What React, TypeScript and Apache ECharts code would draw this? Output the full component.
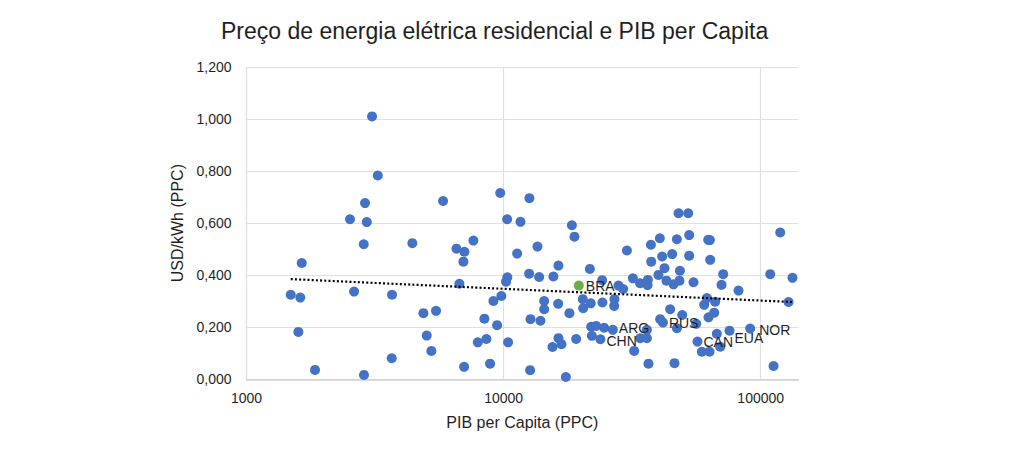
import React, { useEffect, useRef } from "react";
import * as echarts from "echarts";

// PIB per capita (PPC) and price USD/kWh (PPC) for unlabeled countries
const gdpPerCapita = [
  1486, 1619, 1640, 1591, 1847, 2527, 2891, 2936, 2858, 3078, 3240, 2620, 2864, 3681, 3672,
  4416, 4875, 5460, 5023, 5236, 5815, 6556, 7040, 6976, 7630, 6730, 7020, 7934, 8420, 8570,
  8860, 9129, 9434, 9700, 9800, 10340, 10220, 10320, 10410, 11630, 11290, 12600, 12570, 12720,
  12680, 13540, 13750, 13910, 14380, 14380, 15620, 15490, 16340, 16300, 16340, 16790, 17460,
  18030, 18430, 18860, 19150, 20330, 20390, 21650, 21830, 21900, 22040, 22910, 24170, 24230,
  24600, 26990, 26920, 27970, 29170, 30170, 31820, 32200, 33960, 34000, 36070, 36070, 36390,
  36300, 36590, 37400, 37500, 40020, 40520, 40640, 41370, 42240, 42990, 44450, 45240, 45790,
  46200, 47200, 47200, 47900, 48310, 48490, 49500, 52230, 52700, 52700, 54780, 56100, 59040,
  60290, 61750, 66500, 62480, 63440, 63600, 62660, 63210, 65920, 67520, 69560, 70390, 71460,
  81950, 108900, 112200, 119100, 132900, 128300,
];
const pricePerKWh = [
  0.325, 0.314, 0.447, 0.182, 0.036, 0.615, 0.677, 0.604, 0.519, 1.01, 0.783, 0.337, 0.017, 0.325, 0.081,
  0.523, 0.254, 0.263, 0.168, 0.109, 0.685, 0.502, 0.49, 0.452, 0.533, 0.367, 0.048, 0.142, 0.233, 0.155,
  0.06, 0.301, 0.208, 0.716, 0.32, 0.392, 0.375, 0.615, 0.142, 0.605, 0.483, 0.696, 0.406, 0.231,
  0.035, 0.51, 0.393, 0.225, 0.301, 0.269, 0.395, 0.124, 0.437, 0.29, 0.158, 0.135, 0.009,
  0.254, 0.592, 0.548, 0.155, 0.308, 0.273, 0.424, 0.292, 0.202, 0.167, 0.205, 0.381, 0.295,
  0.198, 0.308, 0.282, 0.36, 0.347, 0.495, 0.388, 0.109, 0.369, 0.158, 0.158, 0.19, 0.382,
  0.362, 0.06, 0.517, 0.452, 0.401, 0.542, 0.231, 0.472, 0.427, 0.379, 0.269, 0.481, 0.365,
  0.062, 0.538, 0.196, 0.638, 0.379, 0.417, 0.247, 0.638, 0.554, 0.475, 0.373, 0.213, 0.106,
  0.286, 0.312, 0.298, 0.536, 0.535, 0.459, 0.238, 0.106, 0.256, 0.175, 0.125, 0.363, 0.404,
  0.341, 0.404, 0.051, 0.564, 0.39, 0.297,
];

// Labeled countries
const labeledCountries = ["CHN", "ARG", "RUS", "CAN", "EUA", "NOR"];
const labeledGdp = [23800, 26600, 41640, 56760, 75600, 91000];
const labeledPrice = [0.154, 0.19, 0.218, 0.145, 0.187, 0.195];

// Brazil (highlighted)
const brazilLabel = ["BRA"];
const brazilGdp = [19610];
const brazilPrice = [0.36];

// Trend line end points
const trendGdp = [1486, 132900];
const trendPrice = [0.385, 0.297];

// Axis ranges
const xMin = 1000;
const xMax = 140000;
const yMin = 0;
const yMax = 1.2;
const yStep = 0.2;

const FONT = "'Liberation Sans', Arial, sans-serif";
const BLUE = "#4472C4";
const GREEN = "#70AD47";
const TEXT = "#1f1f1f";

// label placement tweaks (style only)
const labelOffsets: Record<string, [number, number]> = {
  CHN: [0, 2],
  ARG: [0, -2],
  EUA: [-1, 7],
  NOR: [3, 1],
};

export default function App() {
  const ref = useRef<HTMLDivElement>(null);

  useEffect(() => {
    if (!ref.current) return;
    const chart = echarts.init(ref.current, null, { renderer: "svg" });

    const mainData = gdpPerCapita.map((g, i) => [g, pricePerKWh[i]]);
    const labeledData = labeledGdp.map((g, i) => {
      const code = labeledCountries[i];
      const off = labelOffsets[code];
      return off
        ? { value: [g, labeledPrice[i]], label: { offset: off } }
        : { value: [g, labeledPrice[i]] };
    });
    const brazilData = brazilGdp.map((g, i) => [g, brazilPrice[i]]);
    const trendData = trendGdp.map((g, i) => [g, trendPrice[i]]);

    const isPow10 = (v: number) => Math.abs(Math.log10(v) - Math.round(Math.log10(v))) < 1e-6;

    chart.setOption({
      animation: false,
      backgroundColor: "#ffffff",
      textStyle: { fontFamily: FONT },
      title: {
        text: "Preço de energia elétrica residencial e PIB per Capita",
        left: 221,
        top: 19,
        padding: 0,
        textStyle: { fontFamily: FONT, fontSize: 23, fontWeight: "normal", color: TEXT },
      },
      grid: {
        left: 246.5,
        right: 225.7,
        top: 67,
        bottom: 78.7,
        outerBoundsMode: "none",
      },
      xAxis: {
        type: "log",
        logBase: 10,
        min: xMin,
        max: xMax,
        name: "PIB per Capita (PPC)",
        nameLocation: "middle",
        nameGap: 35,
        nameTextStyle: { fontFamily: FONT, fontSize: 16, color: TEXT },
        axisLine: { show: true, lineStyle: { color: "#d0d0d0", width: 1.5 } },
        axisTick: { show: false },
        axisLabel: {
          margin: 12,
          fontFamily: FONT,
          fontSize: 14,
          color: TEXT,
          formatter: (v: number) => (isPow10(v) ? String(Math.round(v)) : ""),
        },
        splitLine: { show: true, showMaxLine: false, lineStyle: { color: "#e0e0e0", width: 1.2 } },
      },
      yAxis: {
        type: "value",
        min: yMin,
        max: yMax,
        interval: yStep,
        name: "USD/kWh (PPC)",
        nameLocation: "middle",
        nameGap: 58,
        nameTextStyle: { fontFamily: FONT, fontSize: 16, color: TEXT },
        axisLine: { show: false },
        axisTick: { show: false },
        axisLabel: {
          margin: 15,
          fontFamily: FONT,
          fontSize: 14,
          color: TEXT,
          formatter: (v: number) => v.toFixed(3).replace(".", ","),
        },
        splitLine: { show: true, lineStyle: { color: "#e0e0e0", width: 1.2 } },
      },
      series: [
        {
          type: "scatter",
          data: mainData,
          symbol: "circle",
          symbolSize: 10,
          itemStyle: { color: BLUE, opacity: 1 },
          z: 2,
        },
        {
          type: "scatter",
          data: labeledData,
          symbol: "circle",
          symbolSize: 10,
          itemStyle: { color: BLUE, opacity: 1 },
          label: {
            show: true,
            position: "right",
            distance: 1,
            fontFamily: FONT,
            fontSize: 14,
            color: TEXT,
            formatter: (p: any) => labeledCountries[p.dataIndex],
          },
          z: 3,
        },
        {
          type: "scatter",
          data: brazilData,
          symbol: "circle",
          symbolSize: 10,
          itemStyle: { color: GREEN, opacity: 1 },
          label: {
            show: true,
            position: "right",
            distance: 2,
            fontFamily: FONT,
            fontSize: 14,
            color: TEXT,
            formatter: (p: any) => brazilLabel[p.dataIndex],
          },
          z: 4,
        },
        {
          type: "line",
          data: trendData,
          symbol: "none",
          silent: true,
          lineStyle: { color: "#000000", width: 2.2, type: [2, 2.2] },
          z: 5,
        },
      ],
    });

    return () => chart.dispose();
  }, []);

  return (
    <div
      ref={ref}
      style={{ position: "fixed", left: 0, top: 0, width: 1024, height: 458, background: "#fff" }}
    />
  );
}
